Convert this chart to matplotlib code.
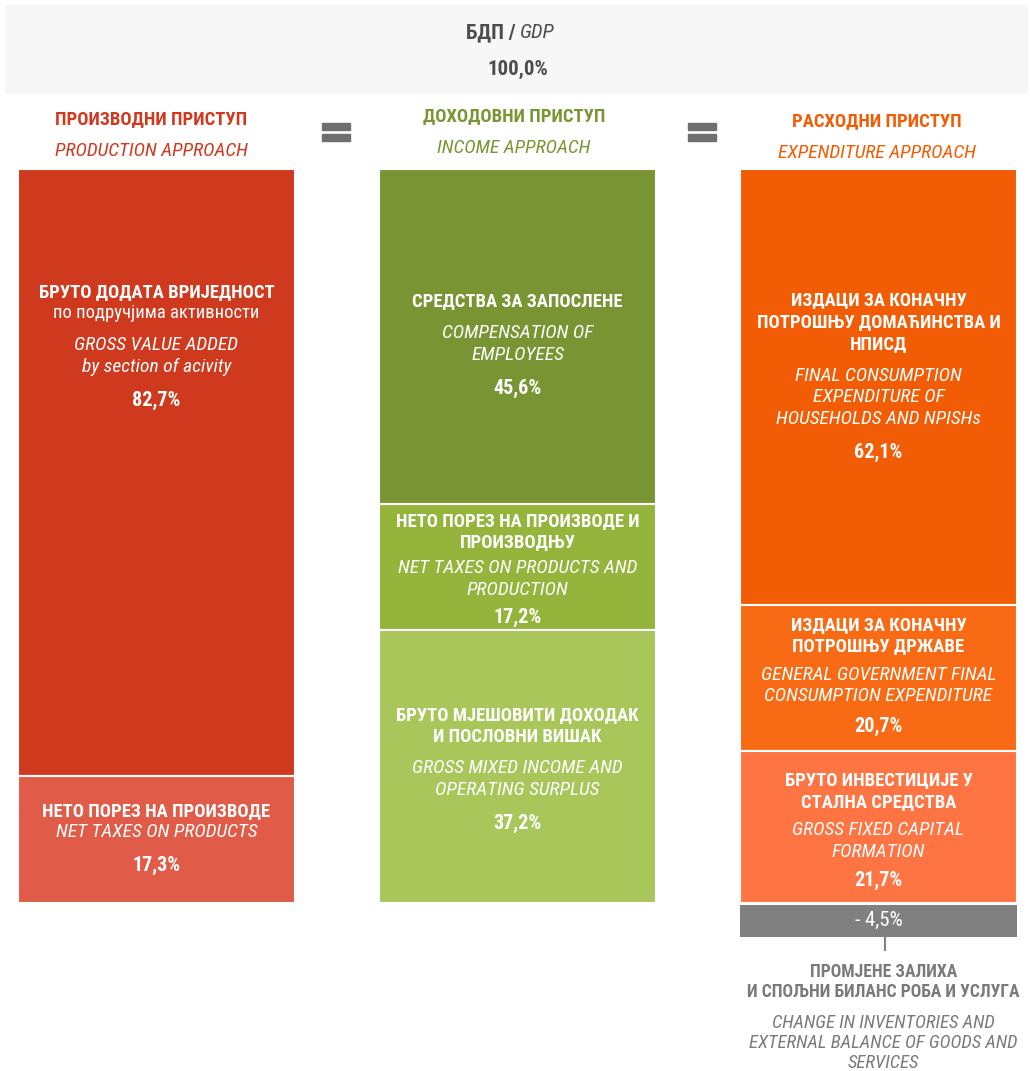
import matplotlib.pyplot as plt
from matplotlib.patches import Rectangle

FONT = ['Roboto Condensed', 'Liberation Sans', 'DejaVu Sans']
plt.rcParams['font.family'] = FONT

# --- data -------------------------------------------------------------
gdp_value = 100.0
prod_values = [82.7, 17.3]
income_values = [45.6, 17.2, 37.2]
exp_values = [62.1, 20.7, 21.7]
balance_value = -4.5

prod_colors = ['#cf3a1f', '#e05c48']
income_colors = ['#799533', '#94b43c', '#a8c65a']
exp_colors = ['#f25c04', '#f96a14', '#ff7443']
balance_color = '#808080'

titles = [('ПРОИЗВОДНИ ПРИСТУП', 'PRODUCTION APPROACH', '#d0391e'),
          ('ДОХОДОВНИ ПРИСТУП', 'INCOME APPROACH', '#7a9632'),
          ('РАСХОДНИ ПРИСТУП', 'EXPENDITURE APPROACH', '#f25c04')]

# label lines per segment: (offset from segment top, text, style)
prod_labels = [
    [(123, 'БРУТО ДОДАТА ВРИЈЕДНОСТ', 'b'), (144, 'по подручјима активности', 'n'),
     (176, 'GROSS VALUE ADDED', 'i'), (198, 'by section of acivity', 'i'), (231, 'v', 'v')],
    [(35, 'НЕТО ПОРЕЗ НА ПРОИЗВОДЕ', 'b'), (56, 'NET TAXES ON PRODUCTS', 'i'), (89, 'v', 'v')],
]
income_labels = [
    [(132, 'СРЕДСТВА ЗА ЗАПОСЛЕНЕ', 'b'), (164, 'COMPENSATION OF', 'i'),
     (186, 'EMPLOYEES', 'i'), (219, 'v', 'v')],
    [(17, 'НЕТО ПОРЕЗ НА ПРОИЗВОДЕ И', 'b'), (38, 'ПРОИЗВОДЊУ', 'b'),
     (64, 'NET TAXES ON PRODUCTS AND', 'i'), (86, 'PRODUCTION', 'i'), (114, 'v', 'v')],
    [(85, 'БРУТО МЈЕШОВИТИ ДОХОДАК', 'b'), (107, 'И ПОСЛОВНИ ВИШАК', 'b'),
     (138, 'GROSS MIXED INCOME AND', 'i'), (160, 'OPERATING SURPLUS', 'i'), (193, 'v', 'v')],
]
exp_labels = [
    [(131, 'ИЗДАЦИ ЗА КОНАЧНУ', 'b'), (153, 'ПОТРОШЊУ ДОМАЋИНСТВА И', 'b'), (175, 'НПИСД', 'b'),
     (207, 'FINAL CONSUMPTION', 'i'), (228, 'EXPENDITURE OF', 'i'),
     (250, 'HOUSEHOLDS AND NPISHs', 'i'), (283, 'v', 'v')],
    [(20, 'ИЗДАЦИ ЗА КОНАЧНУ', 'b'), (41, 'ПОТРОШЊУ ДРЖАВЕ', 'b'),
     (70, 'GENERAL GOVERNMENT FINAL', 'i'), (91, 'CONSUMPTION EXPENDITURE', 'i'), (121, 'v', 'v')],
    [(30, 'БРУТО ИНВЕСТИЦИЈЕ У', 'b'), (52, 'СТАЛНА СРЕДСТВА', 'b'),
     (79, 'GROSS FIXED CAPITAL', 'i'), (101, 'FORMATION', 'i'), (130, 'v', 'v')],
]
balance_text = [('ПРОМЈЕНЕ ЗАЛИХА', 'b'), ('И СПОЉНИ БИЛАНС РОБА И УСЛУГА', 'b'),
                ('CHANGE IN INVENTORIES AND', 'i'), ('EXTERNAL BALANCE OF GOODS AND', 'i'),
                ('SERVICES', 'i')]


def fmt(v):
    return ('%.1f%%' % v).replace('.', ',')


fig = plt.figure(figsize=(10.30, 10.71), dpi=100)
ax = fig.add_axes([0, 0, 1, 1])
ax.set_xlim(0, 1030)
ax.set_ylim(1071, 0)
ax.axis('off')

# header band
ax.add_patch(Rectangle((5, 5), 1022, 88, color='#f7f7f7', zorder=0))
ax.text(520, 33, 'БДП / ', ha='right', va='center', fontsize=15, fontweight='bold', color='#4d4d4d')
ax.text(520, 33, 'GDP', ha='left', va='center', fontsize=15, style='italic', color='#4d4d4d')
ax.text(518, 69, fmt(gdp_value), ha='center', va='center', fontsize=15, fontweight='bold', color='#4d4d4d')

col_left = [18, 379, 740]
col_width = 277
col_top = 169
col_height = 734

styles = {'b': dict(fontweight='bold'), 'n': dict(), 'i': dict(style='italic', fontsize=14),
          'v': dict(fontweight='bold', fontsize=14.5)}

columns = [(prod_values, prod_colors, prod_labels),
           (income_values, income_colors, income_labels),
           (exp_values, exp_colors, exp_labels)]

for i, (vals, cols, labels) in enumerate(columns):
    scale = col_height / sum(vals)
    xc = col_left[i] + col_width / 2
    bottom = col_top
    for v, c, lab in zip(vals, cols, labels):
        h = v * scale
        ax.bar(xc, h, width=col_width, bottom=bottom, color=c,
               edgecolor='white', linewidth=1.5, zorder=2)
        for dy, txt, st in lab:
            kw = dict(fontsize=13.4)
            kw.update(styles[st])
            if st == 'v':
                txt = fmt(v)
            ax.text(xc, bottom + dy, txt, ha='center', va='center', color='white', zorder=3, **kw)
        bottom += h
    if i == 2:
        hb = abs(balance_value) * scale
        ax.bar(xc, hb, width=col_width, bottom=bottom + 2, color=balance_color, zorder=2)
        ax.text(xc, bottom + 2 + hb / 2, '- ' + fmt(abs(balance_value)), ha='center',
                va='center', color='white', fontsize=15)
        y0 = bottom + 2 + hb
        ax.plot([xc + 6, xc + 6], [y0, y0 + 13], color='#808080', lw=1.5)
        ys = [972, 992, 1023, 1043, 1063]
        for yy, (txt, st) in zip(ys, balance_text):
            kw = dict(fontsize=12.7)
            kw.update(styles[st])
            if st == 'i':
                kw['fontsize'] = 13.5
            ax.text(xc + 5, yy, txt, ha='center', va='center', color='#7a7a7a', **kw)

# column titles
title_x = [151, 514, 877]
title_y = [119, 116, 121]
for (ru, en, c), x, y in zip(titles, title_x, title_y):
    ax.text(x, y, ru, ha='center', va='center', fontsize=13.4, fontweight='bold', color=c)
    ax.text(x, y + 32, en, ha='center', va='center', fontsize=14, style='italic', color=c)

# equals signs
for x in [322, 688]:
    ax.add_patch(Rectangle((x, 123), 28, 7, color='#6f6f6f'))
    ax.add_patch(Rectangle((x, 134), 28, 7, color='#6f6f6f'))

fig.savefig('out.png', dpi=100)
